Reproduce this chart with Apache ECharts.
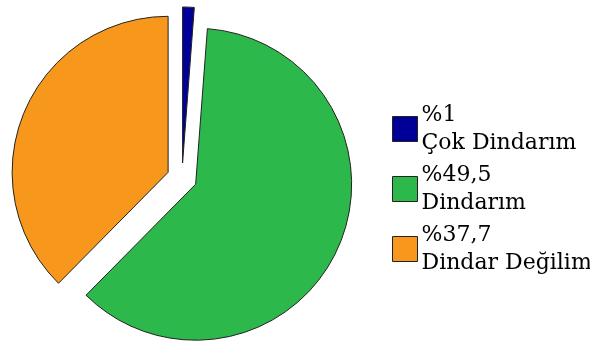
<!DOCTYPE html>
<html><head><meta charset="utf-8">
<script src="https://cdn.jsdelivr.net/npm/echarts@6/dist/echarts.min.js"></script>
<style>html,body{margin:0;padding:0;background:#fff}#c{width:590px;height:344px}</style>
</head><body><div id="c"></div>
<script>
// categories
const categories = ['Çok Dindarım', 'Dindarım', 'Dindar Değilim'];
// percentage labels shown in the legend
const percentLabels = ['%1', '%49,5', '%37,7'];
// slice shares as drawn in the picture
const sliceValues = [1.2, 61.2, 37.6];
const colors = ['#000099', '#2db84b', '#f7981d'];

const chart = echarts.init(document.getElementById('c'), null, {renderer: 'canvas'});
chart.setOption({
  animation: false,
  backgroundColor: '#ffffff',
  legend: {
    orient: 'vertical',
    left: 392,
    top: 101,
    padding: 0,
    icon: 'rect',
    itemWidth: 25,
    itemHeight: 25,
    itemGap: 4,
    selectedMode: false,
    itemStyle: {borderColor: '#222', borderWidth: 1},
    formatter: function (name) {
      const i = categories.indexOf(name);
      return percentLabels[i] + '\n' + name;
    },
    textStyle: {fontFamily: 'DejaVu Serif', fontSize: 22, color: '#000', lineHeight: 28, padding: [0, 0, 0, -1]}
  },
  series: [{
    type: 'pie',
    center: [182, 178],
    radius: [0, 156],
    startAngle: 90,
    clockwise: true,
    selectedMode: 'multiple',
    selectedOffset: 15,
    label: {show: false},
    labelLine: {show: false},
    emphasis: {disabled: true},
    itemStyle: {borderColor: '#222', borderWidth: 1},
    data: categories.map((c, i) => ({name: c, value: sliceValues[i], selected: true, itemStyle: {color: colors[i]}}))
  }]
});
</script></body></html>
